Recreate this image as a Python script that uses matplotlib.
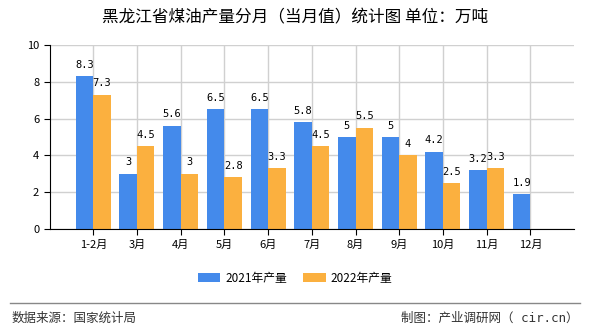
import matplotlib.pyplot as plt
import numpy as np

plt.rcParams['font.family'] = ['Noto Sans CJK SC', 'DejaVu Sans']

months = ['1-2月', '3月', '4月', '5月', '6月', '7月', '8月', '9月', '10月', '11月', '12月']
prod_2021 = [8.3, 3, 5.6, 6.5, 6.5, 5.8, 5, 5, 4.2, 3.2, 1.9]
prod_2022 = [7.3, 4.5, 3, 2.8, 3.3, 4.5, 5.5, 4, 2.5, 3.3]

blue = '#448aeb'
orange = '#fbb03f'

fig = plt.figure(figsize=(5.9, 3.3), dpi=100)
ax = fig.add_axes([0.084, 0.306, 0.889, 0.558])

x = np.arange(len(months))
w = 0.4
b1 = ax.bar(x[:len(prod_2021)] - w / 2, prod_2021, w, color=blue, label='2021年产量', zorder=2)
b2 = ax.bar(x[:len(prod_2022)] + w / 2, prod_2022, w, color=orange, label='2022年产量', zorder=2)

for rect in list(b1) + list(b2):
    h = rect.get_height()
    ax.text(rect.get_x() + rect.get_width() / 2, h + 0.35, '%g' % h,
            ha='center', va='bottom', fontsize=7.5, family='DejaVu Sans Mono', zorder=3)

ax.set_xlim(-1, len(months))
ax.set_ylim(0, 10)
ax.set_yticks(range(0, 11, 2))
ax.set_xticks(x)
ax.set_xticklabels(months)
ax.tick_params(axis='both', labelsize=8, length=4, color='black')
ax.grid(True, color='#d0d0d0', linewidth=1, zorder=0)
ax.set_axisbelow(True)
for s in ['top', 'right']:
    ax.spines[s].set_visible(False)
ax.spines['left'].set_color('black')
ax.spines['bottom'].set_color('black')

fig.text(0.5, 0.945, '黑龙江省煤油产量分月（当月值）统计图 单位：万吨',
         ha='center', va='center', fontsize=12)

fig.legend(handles=[b1, b2], loc='center', bbox_to_anchor=(0.5, 0.157), ncol=2,
           frameon=False, fontsize=8.5, handlelength=1.9, handleheight=0.8,
           handletextpad=0.4, columnspacing=1.4)

fig.add_artist(plt.Line2D([0.017, 0.983], [0.082, 0.082], color='#888888', linewidth=1))
fig.text(0.019, 0.035, '数据来源：国家统计局', ha='left', va='center', fontsize=9, color='#333333')
fig.text(0.981, 0.035, '制图：产业调研网（ cir.cn）', ha='right', va='center', fontsize=9,
         color='#333333', family=['DejaVu Sans Mono', 'Noto Sans CJK SC'])

fig.savefig('out.png', dpi=100)
